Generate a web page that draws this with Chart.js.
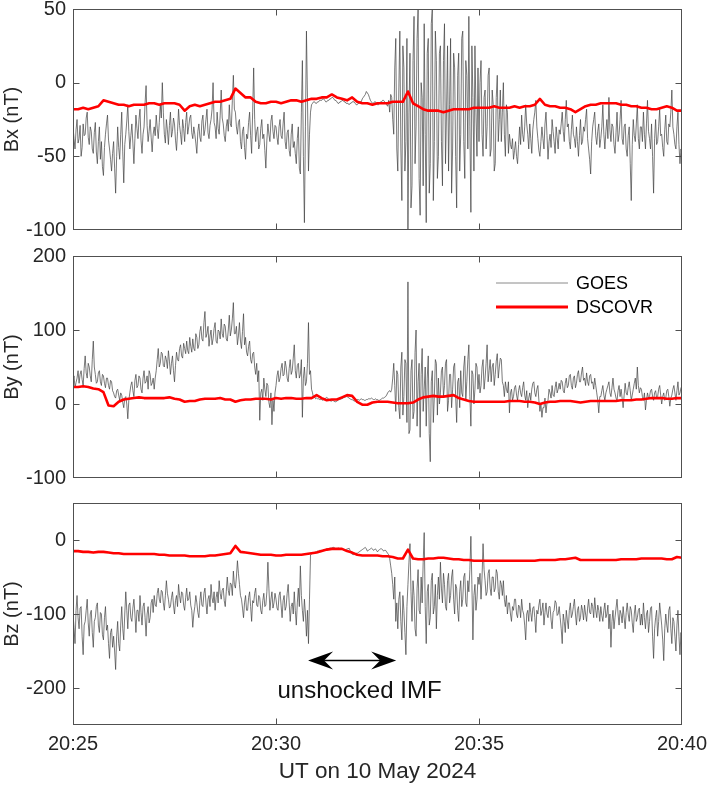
<!DOCTYPE html>
<html><head><meta charset="utf-8">
<script src="https://cdn.jsdelivr.net/npm/chart.js@4.4.1/dist/chart.umd.min.js"></script>
<style>
html,body{margin:0;padding:0;background:#fff;width:709px;height:787px;overflow:hidden;position:relative}
canvas{position:absolute;left:0}
</style></head><body>
<canvas id="c1" width="709" height="240" style="top:0px"></canvas>
<canvas id="c2" width="709" height="250" style="top:240px"></canvas>
<canvas id="c3" width="709" height="297" style="top:490px"></canvas>
<script>
// ---------- DATA (time in minutes after 20:25 UT) ----------
const GOES_STEP_MIN = 0.025;    // GOES sample spacing (minutes), one row = 1 minute
const DSCOVR_STEP_MIN = 0.125;  // DSCOVR sample spacing (minutes), one row = 1 minute

const xTickValues = [0, 5, 10, 15];
const xTickLabels = ['20:25', '20:30', '20:35', '20:40'];

const bxTicks = [-100, -50, 0, 50];
const byTicks = [-100, 0, 100, 200];
const bzTicks = [-200, -100, 0];

const goesBx = [
-30,-38,-45,-32,-25,-41,-38,-29,-50,-44,-28,-36,-35,-24,-20,-37,-42,-30,-33,-45,-48,-34,-27,-47,-55,-40,-30,-52,-40,-57,-63,-44,-35,-28,-22,-39,-45,-52,-60,-48,
-40,-58,-75,-50,-30,-44,-52,-35,-20,-47,-68,-42,-35,-26,-15,-33,-45,-36,-28,-41,-55,-38,-22,-31,-38,-25,-18,-39,-48,-35,-30,-14,-2,-29,-40,-33,-25,-37,-47,-35,
-30,-36,-22,-31,-38,-27,-15,-24,0,-20,-35,-41,-25,-32,-42,-29,-20,-37,-33,-24,-28,-39,-46,-33,-18,-29,-35,-42,-25,-31,-40,-27,-20,-35,-30,-24,-22,-34,-38,-30,
-35,-41,-48,-33,-28,-37,-40,-26,-22,-36,-32,-25,-18,-34,-38,-29,-25,-18,0,-27,-30,-38,-20,-31,-35,-22,-5,-24,-28,-36,-40,-30,-25,-33,-15,-28,-30,-12,5,-18,
-20,-30,-35,-27,-25,-40,-45,-33,-30,-44,-52,-35,-38,-27,-20,-36,-48,-20,10,-25,-40,-33,-30,-45,-42,-31,-25,-38,-35,-46,-58,-39,-28,-35,-40,-26,-22,-33,-38,-29,
-30,-37,-42,-30,-25,-36,-38,-28,-20,-40,-45,-34,-32,-46,-50,-35,-28,-44,-40,-48,-55,-38,-30,-58,-62,-20,15,-50,-95,-30,35,-10,-60,-35,-20,-15,-14,-13,-13,-14,
-14,-13,-13,-12,-12,-12,-11,-11,-12,-13,-13,-12,-12,-11,-11,-10,-10,-11,-12,-12,-13,-14,-14,-13,-13,-12,-12,-13,-13,-14,-14,-14,-15,-14,-14,-13,-13,-13,-14,-15,
-15,-14,-14,-13,-13,-11,-10,-9,-8,-6,-7,-8,-10,-12,-13,-14,-14,-13,-13,-14,-15,-15,-14,-13,-13,-12,-12,-13,-14,-15,-16,-12,-20,-8,-10,-25,-35,10,30,-45,
-60,-5,35,-45,-80,25,10,-60,-40,30,-100,-20,20,-85,-70,15,45,-55,-30,30,50,-65,-90,0,-10,-70,40,-35,-95,20,30,-75,-55,40,50,-80,-40,35,15,-65,
-50,20,25,-40,-70,15,40,-55,-20,25,-60,-15,30,-75,-45,20,10,-50,-85,5,20,-60,-35,30,35,-40,-65,15,5,-45,45,-30,-88,25,-10,-60,25,-20,-50,10,
-40,0,15,-35,-50,-10,-5,-45,-30,5,10,-50,-45,-5,-15,-60,-55,-10,5,-40,-25,-5,-40,-20,0,-35,-50,-15,-20,-48,-35,-42,-45,-38,-52,-46,-40,-50,-55,-42,
-30,-42,-22,-35,-40,-30,-15,-28,-35,-45,-28,-38,-48,-32,-25,-20,-12,-30,-38,-46,-50,-40,-30,-38,-45,-28,-20,-36,-52,-40,-35,-44,-25,-33,-40,-48,-30,-37,-45,-32,
-35,-28,-20,-33,-40,-25,-12,-30,-28,-40,-45,-32,-22,-35,-38,-44,-30,-40,-50,-36,-25,-42,-40,-30,-33,-25,-18,-38,-45,-52,-62,-40,-30,-25,-20,-36,-42,-33,-28,-44,
-38,-30,-15,-35,-45,-33,-25,-38,-10,-32,-40,-28,-30,-42,-48,-34,-20,-40,-35,-25,-12,-38,-42,-30,-28,-45,-50,-36,-30,-55,-80,-42,-25,-36,-40,-28,-15,-38,-45,-30,
-30,-40,-20,-35,-45,-28,-12,-33,-38,-45,-28,-50,-75,-38,-25,-42,-40,-30,-18,-36,-35,-44,-50,-32,-22,-40,-42,-28,-30,-20,-5,-30,-35,-42,-45,-30,-20,-42,-55,-45,
-50];

const dscovrBx = [
-18,-18,-17,-18,-17,-16,-12,-13,
-14,-15,-15,-16,-15,-15,-15,-14,
-14,-15,-14,-14,-14,-15,-19,-16,
-15,-16,-15,-14,-13,-13,-12,-11,
-4,-7,-10,-10,-13,-14,-14,-13,
-13,-14,-13,-12,-12,-13,-12,-11,
-11,-10,-10,-8,-10,-11,-12,-10,
-13,-14,-14,-15,-14,-14,-14,-13,
-13,-13,-6,-14,-16,-18,-19,-19,
-19,-20,-19,-18,-18,-18,-18,-17,
-17,-17,-17,-16,-17,-17,-17,-16,
-17,-16,-16,-15,-11,-15,-16,-16,
-17,-17,-18,-20,-18,-16,-15,-15,
-14,-14,-14,-14,-15,-15,-16,-16,
-17,-17,-18,-18,-17,-16,-17,-19,
-19];

const goesBy = [
30,38,22,29,35,45,28,40,45,33,25,48,65,42,35,55,50,38,30,60,85,50,40,28,30,42,45,30,25,40,38,28,22,35,35,25,20,32,30,18,
15,10,8,18,20,12,5,15,12,2,-5,8,10,0,-20,5,15,25,30,18,10,32,40,22,25,38,35,20,15,35,45,28,30,38,20,45,40,25,28,35,
20,35,45,60,75,50,55,70,68,52,50,65,60,48,72,58,40,55,65,45,30,52,70,60,58,75,80,65,62,82,75,68,85,72,68,90,78,70,88,75,
72,95,90,75,80,98,105,88,85,110,125,90,95,105,78,92,100,80,88,102,110,85,82,100,98,88,115,95,90,108,105,88,85,100,120,92,100,115,137,95,
95,105,80,92,110,85,75,98,122,80,90,70,65,78,85,60,55,68,70,50,40,55,30,45,-22,15,20,5,35,20,10,28,25,2,-5,15,-28,5,-10,15,
25,38,45,30,35,48,55,38,40,58,50,35,30,48,60,40,45,62,80,45,35,52,55,35,40,60,-18,35,50,25,30,55,110,40,45,20,15,8,10,7,
8,7,7,6,6,6,5,6,7,8,9,8,6,5,4,4,5,4,3,3,4,5,6,6,7,7,8,9,9,10,10,9,8,7,6,6,5,4,4,5,
6,6,5,6,7,6,6,5,5,6,6,7,7,7,8,7,6,6,7,6,6,5,5,6,7,8,8,9,10,12,15,17,18,16,20,35,55,25,-10,45,
40,-5,-20,50,70,-15,10,60,55,-25,165,-40,-35,45,60,-20,-10,70,100,-30,30,55,-45,40,75,-10,20,50,-30,35,65,-40,-78,30,45,-25,10,60,55,-15,
35,0,15,45,50,10,25,55,60,-10,5,40,40,-5,20,50,55,10,-25,30,35,-5,45,15,10,50,65,5,30,60,80,10,-30,45,40,0,20,55,50,20,
40,15,25,50,60,20,35,55,80,30,45,60,30,50,55,25,40,58,68,35,50,62,60,30,25,10,30,20,15,30,-12,15,20,5,10,22,25,12,5,18,
25,15,10,22,30,12,5,18,-5,8,15,5,20,28,30,15,10,20,25,5,-10,0,-18,-5,-5,8,-12,2,5,20,15,8,25,12,10,22,30,15,20,28,
20,32,30,18,15,28,35,22,25,38,40,25,20,35,38,22,28,40,45,30,30,42,50,32,35,25,42,30,25,38,40,28,30,20,35,25,15,5,-12,10,
10,18,25,12,5,15,20,25,30,15,10,22,35,20,15,8,5,18,25,10,20,8,-5,12,28,15,12,22,30,18,5,12,20,28,35,20,50,25,15,22,
20,10,5,15,-8,5,15,8,10,18,20,10,5,15,18,8,10,20,25,12,0,10,15,5,8,18,20,10,-3,8,12,20,25,15,5,18,30,12,15,22,
20];

const dscovrBy = [
23,23,24,23,21,20,16,-2,
-3,3,6,7,8,9,8,8,
8,8,8,9,7,6,3,4,
4,6,7,7,7,8,6,6,
3,5,6,6,7,7,7,6,
8,7,8,8,7,7,8,8,
12,8,5,6,6,9,12,11,
3,-1,-1,2,3,3,3,2,
1,1,1,2,6,9,10,11,
10,10,11,12,8,6,4,3,
3,3,3,3,3,3,4,4,
4,3,3,2,0,2,3,3,
4,4,4,3,2,3,4,4,
4,4,4,4,5,5,5,6,
6,7,8,8,8,7,7,8,
8];

const goesBz = [
-100,-118,-140,-95,-75,-105,-120,-92,-90,-130,-155,-115,-110,-95,-80,-112,-130,-100,-95,-125,-145,-110,-105,-90,-85,-115,-125,-98,-100,-128,-135,-105,-90,-122,-115,-140,-160,-125,-120,-145,
-130,-150,-175,-130,-110,-140,-150,-115,-90,-120,-135,-100,-70,-95,-120,-88,-85,-105,-110,-92,-80,-100,-125,-95,-95,-110,-75,-98,-115,-90,-85,-105,-130,-100,-90,-112,-105,-85,-80,-98,
-75,-88,-90,-72,-65,-80,-85,-68,-70,-85,-95,-75,-55,-72,-80,-92,-90,-78,-70,-88,-100,-82,-75,-90,-60,-75,-85,-70,-72,-88,-95,-78,-65,-82,-80,-70,-88,-95,-118,-100,
-90,-75,-85,-98,-105,-82,-70,-88,-90,-72,-65,-85,-100,-80,-75,-90,-60,-78,-85,-70,-95,-78,-70,-85,-55,-72,-80,-68,-65,-82,-90,-70,-50,-68,-75,-58,-60,-75,-42,-60,
-65,-50,-28,-45,-60,-75,-80,-92,-105,-85,-75,-95,-95,-78,-70,-90,-110,-82,-85,-72,-65,-88,-90,-75,-78,-95,-100,-82,-72,-90,-88,-70,-30,-65,-95,-80,-70,-92,-85,-72,
-80,-92,-95,-75,-70,-88,-105,-82,-75,-95,-90,-72,-60,-85,-110,-90,-85,-100,-70,-95,-115,-85,-65,-90,-35,-75,-95,-110,-80,-100,-130,-95,-140,-80,-20,-19,-18,-17,-17,-16,
-16,-15,-15,-14,-14,-14,-14,-13,-13,-13,-12,-12,-12,-11,-11,-11,-10,-10,-11,-12,-12,-11,-11,-12,-12,-12,-13,-13,-14,-13,-12,-12,-11,-14,-18,-19,-20,-19,-19,-18,
-18,-17,-16,-15,-14,-13,-12,-11,-10,-12,-15,-14,-13,-12,-11,-12,-14,-13,-12,-14,-16,-14,-13,-12,-12,-13,-15,-14,-14,-16,-18,-20,-25,-35,-45,-60,-80,-50,-110,-85,
-120,-80,-70,-110,-135,-75,-95,-125,-155,-90,-60,-30,-5,-70,-110,-55,-75,-120,-130,-65,-40,-95,-100,-50,-85,-30,10,-90,-140,-70,-60,-115,-105,-55,-45,-100,-90,-60,-120,-75,
-50,-80,-30,-65,-85,-45,-60,-90,-95,-55,-45,-85,-75,-50,-40,-80,-100,-60,-65,-95,-110,-70,-55,-90,-80,-50,-45,-85,-90,-55,-70,-40,5,-60,-135,-75,-60,-95,-80,-50,
-60,-45,-80,-50,-5,-40,-55,-75,-70,-45,-40,-65,-75,-50,-50,-70,-65,-40,-45,-70,-80,-55,-60,-75,-55,-80,-90,-75,-100,-85,-85,-100,-110,-90,-95,-80,-80,-100,-105,-88,
-90,-105,-80,-95,-100,-115,-135,-100,-95,-110,-85,-98,-110,-92,-90,-105,-125,-95,-100,-88,-80,-102,-95,-85,-115,-98,-85,-100,-105,-90,-90,-108,-120,-98,-95,-82,-85,-102,-100,-90,
-105,-120,-140,-100,-110,-125,-95,-108,-120,-95,-85,-105,-100,-90,-80,-100,-115,-95,-90,-110,-105,-88,-95,-108,-88,-100,-110,-92,-80,-98,-100,-85,-90,-105,-78,-95,-105,-88,-95,-110,
-90,-102,-110,-95,-85,-105,-100,-88,-120,-100,-145,-110,-95,-120,-105,-92,-80,-100,-115,-95,-100,-112,-90,-105,-120,-98,-85,-100,-110,-90,-95,-112,-125,-100,-88,-110,-105,-95,-92,-115,
-100,-115,-85,-105,-120,-100,-95,-125,-110,-92,-90,-130,-160,-120,-105,-95,-130,-110,-85,-100,-115,-135,-163,-120,-100,-115,-125,-95,-90,-120,-140,-105,-110,-130,-150,-115,-95,-130,-155,-125,
-150];

const dscovrBz = [
-15,-15,-16,-16,-17,-16,-16,-17,
-18,-18,-19,-19,-19,-19,-19,-19,
-19,-20,-20,-21,-21,-21,-21,-22,
-22,-22,-22,-21,-21,-20,-19,-18,
-8,-16,-17,-18,-19,-20,-20,-20,
-21,-21,-20,-20,-20,-20,-19,-18,
-17,-15,-13,-12,-12,-12,-15,-17,
-20,-21,-21,-21,-21,-22,-22,-23,
-25,-25,-13,-25,-26,-26,-25,-25,
-24,-24,-25,-26,-26,-27,-27,-28,
-28,-28,-28,-28,-28,-28,-28,-28,
-28,-28,-28,-28,-27,-27,-27,-27,
-26,-26,-25,-24,-27,-27,-27,-27,
-27,-27,-27,-27,-26,-26,-26,-26,
-25,-25,-25,-25,-25,-26,-26,-23,
-24];

// ---------- STYLE ----------
const FONT = "'Liberation Sans', Arial, Helvetica, sans-serif";
const TEXT = '#262626';
const AXIS = '#505050';
const GOES_COLOR = '#404040';
const DSCOVR_COLOR = '#ff0000';
Chart.defaults.font.family = FONT;
Chart.defaults.color = TEXT;

function toPoints(vals, step) { return vals.map((v, i) => ({ x: Math.round(i * step * 1000) / 1000, y: v })); }

const framePlugin = {
  id: 'frame',
  afterDatasetsDraw(chart) {
    const { ctx, chartArea: a, scales: { x, y } } = chart;
    const L = Math.round(a.left) + 0.5, R = Math.round(a.right) - 0.5;
    const T = Math.round(a.top) + 0.5, B = Math.round(a.bottom) - 0.5;
    ctx.save();
    ctx.strokeStyle = AXIS; ctx.lineWidth = 1;
    ctx.strokeRect(L, T, R - L, B - T);
    ctx.beginPath();
    y.ticks.forEach(t => {
      const p = Math.round(y.getPixelForValue(t.value)) + 0.5;
      if (p <= T + 1 || p >= B - 1) return;
      ctx.moveTo(L, p); ctx.lineTo(L + 6, p);
      ctx.moveTo(R, p); ctx.lineTo(R - 6, p);
    });
    x.ticks.forEach(t => {
      const p = Math.round(x.getPixelForValue(t.value)) + 0.5;
      if (p <= L + 1 || p >= R - 1) return;
      ctx.moveTo(p, B); ctx.lineTo(p, B - 6);
      ctx.moveTo(p, T); ctx.lineTo(p, T + 6);
    });
    ctx.stroke();
    ctx.restore();
  }
};

const legendPlugin = {
  id: 'insideLegend',
  afterDatasetsDraw(chart) {
    const { ctx, chartArea: a } = chart;
    const ds = chart.data.datasets;
    const items = [ds[1], ds[0]]; // GOES, DSCOVR
    const x0 = a.right - 186, x1 = a.right - 114, tx = a.right - 106;
    const rows = [a.top + 27, a.top + 51];
    ctx.save();
    items.forEach((d, i) => {
      ctx.beginPath();
      ctx.strokeStyle = d.label === 'GOES' ? '#8a8a8a' : d.borderColor;
      ctx.lineWidth = d.label === 'GOES' ? 1 : 2.8;
      ctx.moveTo(x0, rows[i]); ctx.lineTo(x1, rows[i]); ctx.stroke();
      ctx.fillStyle = '#000';
      ctx.font = '18px ' + FONT;
      ctx.textAlign = 'left'; ctx.textBaseline = 'middle';
      ctx.fillText(d.label, tx, rows[i] + 1);
    });
    ctx.restore();
  }
};

const ARROW = { t0: 5.79, t1: 7.96, value: -162 };
const NOTE = { t: 7.057, value: -213.5, text: 'unshocked IMF' };
const annotationPlugin = {
  id: 'unshocked',
  afterDraw(chart) {
    const { ctx, scales: { x, y } } = chart;
    const xa = x.getPixelForValue(ARROW.t0), xb = x.getPixelForValue(ARROW.t1);
    const ya = Math.round(y.getPixelForValue(ARROW.value)) + 0.5;
    const Lh = 25, W = 9, notch = 16;
    ctx.save();
    ctx.strokeStyle = '#000'; ctx.fillStyle = '#000'; ctx.lineWidth = 1.4;
    ctx.beginPath(); ctx.moveTo(xa + notch, ya); ctx.lineTo(xb - notch, ya); ctx.stroke();
    ctx.beginPath();
    ctx.moveTo(xa, ya); ctx.lineTo(xa + Lh, ya - W); ctx.lineTo(xa + notch, ya); ctx.lineTo(xa + Lh, ya + W); ctx.closePath(); ctx.fill();
    ctx.beginPath();
    ctx.moveTo(xb, ya); ctx.lineTo(xb - Lh, ya - W); ctx.lineTo(xb - notch, ya); ctx.lineTo(xb - Lh, ya + W); ctx.closePath(); ctx.fill();
    ctx.font = '24px ' + FONT;
    ctx.textAlign = 'center'; ctx.textBaseline = 'alphabetic';
    ctx.fillStyle = '#111';
    ctx.fillText(NOTE.text, x.getPixelForValue(NOTE.t), y.getPixelForValue(NOTE.value));
    ctx.restore();
  }
};

function makePanel(id, opt) {
  return new Chart(document.getElementById(id), {
    type: 'line',
    data: {
      datasets: [
        { label: 'DSCOVR', data: toPoints(opt.dscovr, DSCOVR_STEP_MIN), borderColor: DSCOVR_COLOR, borderWidth: 2.6,
          pointRadius: 0, tension: 0, borderJoinStyle: 'round', borderCapStyle: 'round' },
        { label: 'GOES', data: toPoints(opt.goes, GOES_STEP_MIN), borderColor: GOES_COLOR, borderWidth: 0.7,
          pointRadius: 0, tension: 0, borderJoinStyle: 'round' }
      ]
    },
    options: {
      responsive: false, animation: false, devicePixelRatio: 1,
      layout: { padding: { top: opt.padTop, right: 27, bottom: 0, left: 0 } },
      plugins: { legend: { display: false }, tooltip: { enabled: false } },
      scales: {
        x: {
          type: 'linear', min: 0, max: 15,
          afterBuildTicks: s => { s.ticks = xTickValues.map(v => ({ value: v })); },
          grid: { display: false, drawTicks: false }, border: { display: false },
          ticks: { display: opt.showX, autoSkip: false, maxRotation: 0, padding: 7,
                   font: { size: 20 }, color: TEXT, callback: (v, i) => xTickLabels[i] },
          title: { display: opt.showX, text: 'UT on 10 May 2024', font: { size: 22.5 }, color: TEXT,
                   padding: { top: 0, bottom: 2 } },
          afterFit: s => { s.height = opt.xHeight; s.paddingLeft = 0; s.paddingRight = 0; }
        },
        y: {
          min: opt.yMin, max: opt.yMax,
          afterBuildTicks: s => { s.ticks = opt.yTicks.map(v => ({ value: v })); },
          grid: { display: false, drawTicks: false }, border: { display: false },
          ticks: { padding: 7, font: { size: 20 }, color: TEXT, callback: v => String(v) },
          title: { display: true, text: opt.title, font: { size: 20 }, color: TEXT, padding: { top: 0, bottom: 0 } },
          afterFit: s => { s.width = 73; s.paddingTop = 0; s.paddingBottom = 0; }
        }
      }
    },
    plugins: [framePlugin].concat(opt.extra || [])
  });
}

makePanel('c1', { goes: goesBx, dscovr: dscovrBx, yMin: -100, yMax: 50, yTicks: bxTicks, title: 'Bx (nT)',
  padTop: 9, xHeight: 10, showX: false });
makePanel('c2', { goes: goesBy, dscovr: dscovrBy, yMin: -100, yMax: 200, yTicks: byTicks, title: 'By (nT)',
  padTop: 16, xHeight: 12, showX: false, extra: [legendPlugin] });
makePanel('c3', { goes: goesBz, dscovr: dscovrBz, yMin: -250, yMax: 50, yTicks: bzTicks, title: 'Bz (nT)',
  padTop: 13, xHeight: 62, showX: true, extra: [annotationPlugin] });
</script>
</body></html>
